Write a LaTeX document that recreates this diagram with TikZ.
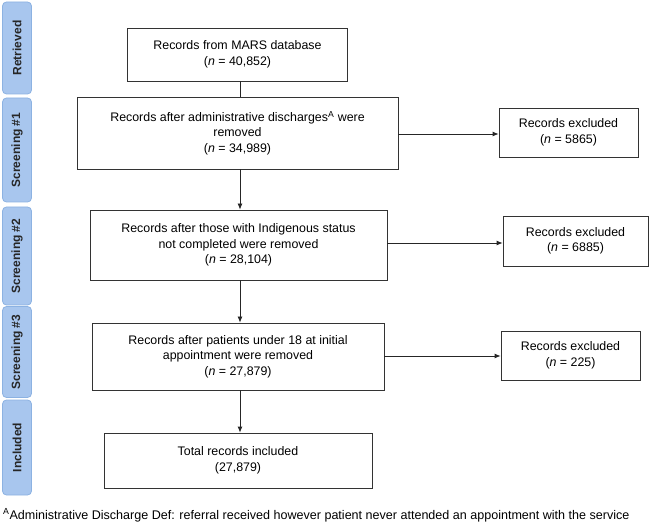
\documentclass[tikz,border=0pt]{standalone}
\usepackage{fontspec}
\setmainfont{Liberation Sans}
\begin{document}
\begin{tikzpicture}[x=1pt,y=-1pt,
  mainbox/.style={draw=black!80, line width=0.8pt, fill=white, align=center, inner sep=0pt, font=\fontsize{12.4}{15.5}\selectfont},
  band/.style={draw={rgb,255:red,140;green,178;blue,226}, fill={rgb,255:red,168;green,198;blue,238}, rounded corners=4pt, line width=0.8pt, inner sep=0pt},
  bandlabel/.style={rotate=90, font=\bfseries\fontsize{12}{14}\selectfont, text=black!85},
  link/.style={draw=black!85, line width=0.8pt},
  arr/.style={link, -{Latex[length=6pt,width=5pt]}}
]
\usetikzlibrary{arrows.meta}
\useasboundingbox (0,0) rectangle (649,524);
% bands
\node[band, minimum width=29pt, minimum height=92pt] (b1) at (17,48) {};
\node[bandlabel] at (b1) {Retrieved};
\node[band, minimum width=29pt, minimum height=104pt] (b2) at (17,150) {};
\node[bandlabel] at (b2) {Screening \#1};
\node[band, minimum width=29pt, minimum height=98pt] (b3) at (17,256) {};
\node[bandlabel] at (b3) {Screening \#2};
\node[band, minimum width=29pt, minimum height=91pt] (b4) at (17,352) {};
\node[bandlabel] at (b4) {Screening \#3};
\node[band, minimum width=29pt, minimum height=95pt] (b5) at (17,447.5) {};
\node[bandlabel] at (b5) {Included};
% main boxes
\node[mainbox, minimum width=220pt, minimum height=53pt] (m1) at (237.5,54.5) {Records from MARS database\\(\textit{n} = 40,852)};
\node[mainbox, minimum width=321pt, minimum height=72pt] (m2) at (237.5,133) {Records after administrative discharges\textsuperscript{A} were\\removed\\(\textit{n} = 34,989)};
\node[mainbox, minimum width=297pt, minimum height=70pt] (m3) at (238.5,245) {Records after those with Indigenous status\\not completed were removed\\(\textit{n} = 28,104)};
\node[mainbox, minimum width=292pt, minimum height=67pt] (m4) at (238,356.5) {Records after patients under 18 at initial\\appointment were removed\\(\textit{n} = 27,879)};
\node[mainbox, minimum width=268pt, minimum height=55pt] (m5) at (238,460.5) {Total records included\\(27,879)};
% excluded boxes
\node[mainbox, minimum width=139pt, minimum height=49pt] (e1) at (568.5,132.5) {Records excluded\\(\textit{n} = 5865)};
\node[mainbox, minimum width=145pt, minimum height=50pt] (e2) at (575.5,241) {Records excluded\\(\textit{n} = 6885)};
\node[mainbox, minimum width=139pt, minimum height=49pt] (e3) at (570.5,355.5) {Records excluded\\(\textit{n} = 225)};
% connectors
\draw[link] (m1.south -| 240,0) -- (m2.north -| 240,0);
\draw[arr] (m2.south -| 240,0) -- (m3.north -| 240,0);
\draw[arr] (m3.south -| 240,0) -- (m4.north -| 240,0);
\draw[arr] (m4.south -| 240,0) -- (m5.north -| 240,0);
\draw[arr] (m2.east |- 0,134) -- (e1.west |- 0,134);
\draw[arr] (m3.east |- 0,243) -- (e2.west |- 0,243);
\draw[arr] (m4.east |- 0,356) -- (e3.west |- 0,356);
% footnote
\node[anchor=base west, inner sep=0pt, font=\fontsize{12.55}{14}\selectfont] (fn) at (3,519) {\textsuperscript{A}Administrative Discharge Def: referral received however patient never attended an appointment with the service};
\end{tikzpicture}
\end{document}
